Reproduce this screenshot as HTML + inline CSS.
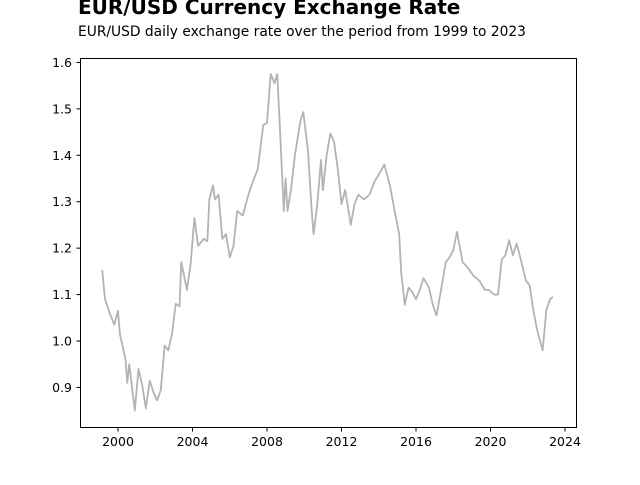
<!DOCTYPE html>
<html><head><meta charset="utf-8"><style>
html,body{margin:0;padding:0;background:#fff;}
svg text{font-family:"DejaVu Sans","Liberation Sans",sans-serif;}
</style></head><body>
<svg width="640" height="480" viewBox="0 0 640 480" xmlns="http://www.w3.org/2000/svg">
<text x="78" y="14" font-size="20" font-weight="bold">EUR/USD Currency Exchange Rate</text>
<text x="78" y="36" font-size="13.8">EUR/USD daily exchange rate over the period from 1999 to 2023</text>
<g id="plot"></g>
<rect x="80.5" y="58.5" width="496" height="369" fill="none" stroke="#000" stroke-width="1"/>
<g id="axes"></g>
</svg>
<script>
const years=[1999.15,1999.3,1999.6,1999.8,2000.0,2000.1,2000.4,2000.5,2000.6,2000.8,2000.9,2001.1,2001.3,2001.5,2001.7,2001.9,2002.1,2002.3,2002.5,2002.7,2002.9,2003.1,2003.3,2003.4,2003.7,2003.9,2004.1,2004.3,2004.6,2004.8,2004.9,2005.1,2005.2,2005.4,2005.6,2005.8,2006.0,2006.2,2006.4,2006.7,2007.0,2007.3,2007.5,2007.8,2008.0,2008.2,2008.4,2008.55,2008.7,2008.9,2009.0,2009.1,2009.3,2009.5,2009.8,2009.95,2010.2,2010.4,2010.5,2010.7,2010.9,2011.0,2011.2,2011.4,2011.6,2011.8,2012.0,2012.2,2012.5,2012.7,2012.9,2013.2,2013.5,2013.8,2014.1,2014.3,2014.6,2014.9,2015.1,2015.2,2015.4,2015.6,2015.8,2016.0,2016.2,2016.4,2016.7,2016.9,2017.1,2017.3,2017.6,2017.8,2018.0,2018.2,2018.5,2018.8,2019.1,2019.4,2019.7,2019.9,2020.2,2020.4,2020.6,2020.8,2021.0,2021.2,2021.4,2021.6,2021.9,2022.1,2022.3,2022.5,2022.8,2023.0,2023.2,2023.35];
const rates=[1.153,1.09,1.055,1.035,1.065,1.015,0.96,0.91,0.95,0.885,0.85,0.94,0.905,0.855,0.915,0.89,0.872,0.895,0.99,0.98,1.015,1.08,1.075,1.17,1.11,1.165,1.265,1.205,1.22,1.215,1.305,1.335,1.305,1.315,1.22,1.23,1.18,1.205,1.28,1.27,1.315,1.35,1.37,1.465,1.47,1.575,1.555,1.575,1.455,1.28,1.35,1.28,1.33,1.40,1.475,1.493,1.41,1.28,1.23,1.295,1.39,1.325,1.40,1.447,1.43,1.37,1.295,1.325,1.25,1.295,1.315,1.305,1.315,1.345,1.365,1.38,1.335,1.27,1.23,1.15,1.078,1.115,1.105,1.09,1.11,1.135,1.115,1.078,1.055,1.10,1.17,1.18,1.196,1.235,1.17,1.157,1.14,1.13,1.11,1.11,1.10,1.10,1.175,1.185,1.217,1.185,1.21,1.18,1.13,1.12,1.067,1.024,0.98,1.067,1.09,1.095];
const yTicks=[0.9,1.0,1.1,1.2,1.3,1.4,1.5,1.6];
const xTicks=[2000,2004,2008,2012,2016,2020,2024];
const NS='http://www.w3.org/2000/svg';
function xs(y){return 118+(y-2000)*18.625;}
function ys(v){return 341-(v-1)*464.3;}
const plot=document.getElementById('plot'),axes=document.getElementById('axes');
const line=document.createElementNS(NS,'polyline');
line.setAttribute('points',years.map((y,i)=>xs(y).toFixed(1)+','+ys(rates[i]).toFixed(1)).join(' '));
line.setAttribute('fill','none');line.setAttribute('stroke','#b3b3b3');line.setAttribute('stroke-width','1.8');line.setAttribute('stroke-linejoin','round');


plot.appendChild(line);
yTicks.forEach(v=>{const y=ys(v);
 const t=document.createElementNS(NS,'line');t.setAttribute('x1',76.5);t.setAttribute('x2',80.5);t.setAttribute('y1',y);t.setAttribute('y2',y);t.setAttribute('stroke','#000');
 
 
 axes.appendChild(t);
 const l=document.createElementNS(NS,'text');l.setAttribute('x',72);l.setAttribute('y',y+4.5);l.setAttribute('text-anchor','end');l.setAttribute('font-size','12.5');l.textContent=v.toFixed(1);
 
 
 axes.appendChild(l);});
xTicks.forEach(v=>{const x=xs(v);
 const t=document.createElementNS(NS,'line');t.setAttribute('x1',x);t.setAttribute('x2',x);t.setAttribute('y1',427.5);t.setAttribute('y2',431.5);t.setAttribute('stroke','#000');
 
 
 axes.appendChild(t);
 const l=document.createElementNS(NS,'text');l.setAttribute('x',x);l.setAttribute('y',446);l.setAttribute('text-anchor','middle');l.setAttribute('font-size','12.5');l.textContent=v;
 
 
 axes.appendChild(l);});
</script>
</body></html>
